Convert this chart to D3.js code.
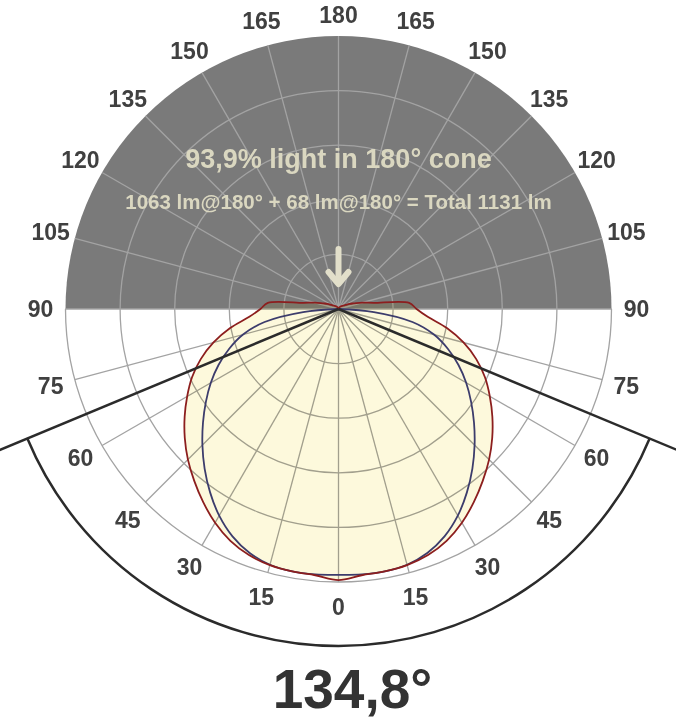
<!DOCTYPE html>
<html>
  <head>
    <meta charset="utf-8"/>
    <style>
      body { margin: 0; background: #fff; }
      text { font-family: "Liberation Sans", Arial, sans-serif; font-weight: bold; }
    </style>
  </head>
  <body>
    <script src="https://d3js.org/d3.v7.min.js"></script>
    <script type="text/javascript">
      var width = 676, height = 720;
      var cx = 338.5, cy = 309, R = 273;

      // polar data, angle from nadir (0 = straight down), relative intensity in %
      var angles     = [0, 5, 10, 15, 20, 25, 30, 35, 40, 45, 50, 55, 60, 65, 70, 75, 80, 85, 90, 95, 100, 105, 110, 115, 120, 135, 150, 165, 180];
      var redValues  = [99.3, 97.9, 97.6, 97.1, 95.9, 93.7, 90.4, 86.4, 82.2, 78.0, 73.5, 68.8, 64.0, 59.2, 53.7, 47.4, 40.3, 32.8, 28.6, 26.0, 13, 9, 6, 4.5, 3, 1.5, 0.8, 0.4, 0.2];
      var blueValues = [97.4, 97.6, 97.6, 97.0, 95.1, 91.9, 87.4, 82.0, 76.3, 70.5, 64.8, 59.3, 54.0, 48.5, 42.6, 36.2, 27.5, 13, 0, 0, 0, 0, 0, 0, 0, 0, 0, 0, 0];
      var ringValues = [20, 40, 60, 80, 100];
      var tickLabels = [0, 15, 30, 45, 60, 75, 90, 105, 120, 135, 150, 165, 180];
      var coneAngle = 134.8;
      var headline = "93,9% light in 180° cone";
      var subline = "1063 lm@180° + 68 lm@180° = Total 1131 lm";
      var coneText = "134,8°";

      var svg = d3.select("body").append("svg")
                  .attr("width", width)
                  .attr("height", height);

      var r = d3.scaleLinear().domain([0, 100]).range([0, R]);
      var rad = function(d) { return d * Math.PI / 180; };

      // screen point for angle from nadir (positive = left side)
      function pt(theta, radius) {
        return [cx - radius * Math.sin(rad(theta)), cy + radius * Math.cos(rad(theta))];
      }

      var g = svg.append("g").attr("transform", "translate(" + cx + "," + cy + ")");

      // dark upper half
      g.append("path")
       .attr("d", d3.arc().innerRadius(0).outerRadius(R).startAngle(-Math.PI / 2).endAngle(Math.PI / 2)())
       .attr("fill", "#7a7a7a");

      // rings
      g.selectAll(".ring").data(ringValues.slice(0, -1)).enter()
       .append("circle")
       .attr("r", function(d) { return r(d); })
       .attr("fill", "none")
       .attr("stroke", "#a3a3a3")
       .attr("stroke-width", 1.3);
      g.append("path")
       .attr("d", d3.arc().innerRadius(R).outerRadius(R).startAngle(Math.PI / 2).endAngle(3 * Math.PI / 2)())
       .attr("fill", "none")
       .attr("stroke", "#a3a3a3")
       .attr("stroke-width", 1.3);

      // spokes every 15 degrees
      var spokes = d3.range(0, 360, 15);
      g.selectAll(".spoke").data(spokes).enter()
       .append("line")
       .attr("x1", 0).attr("y1", 0)
       .attr("x2", function(d) { return -R * Math.sin(rad(d)); })
       .attr("y2", function(d) { return R * Math.cos(rad(d)); })
       .attr("stroke", "#a3a3a3")
       .attr("stroke-width", 1.3);

      // build closed curves: right side from 180 down to 0, then left side 0 to 180
      function series(vals) {
        var pts = [];
        for (var i = angles.length - 1; i >= 1; i--) pts.push([Math.PI - rad(angles[i]), r(vals[i])]);
        for (var j = 0; j < angles.length - 1; j++) pts.push([Math.PI + rad(angles[j]), r(vals[j])]);
        return pts;
      }
      var radial = d3.lineRadial().curve(d3.curveCatmullRomClosed.alpha(0.5));

      g.append("path")
       .attr("d", radial(series(redValues)))
       .attr("fill", "#fdf9dc")
       .style("mix-blend-mode", "multiply");

      g.append("path")
       .attr("d", radial(series(blueValues)))
       .attr("fill", "none")
       .attr("stroke", "#3c3c6c")
       .attr("stroke-width", 1.8);

      g.append("path")
       .attr("d", radial(series(redValues)))
       .attr("fill", "none")
       .attr("stroke", "#8c1e1e")
       .attr("stroke-width", 1.8);

      // cone lines and arc
      var half = coneAngle / 2;
      [half, -half].forEach(function(a) {
        var e = pt(a, 368);
        svg.append("line")
           .attr("x1", cx).attr("y1", cy)
           .attr("x2", e[0]).attr("y2", e[1])
           .attr("stroke", "#2b2b2b")
           .attr("stroke-width", 2.5);
      });
      var p = d3.path();
      var s = pt(-half, 337);
      p.moveTo(s[0], s[1]);
      p.arc(cx, cy, 337, Math.PI / 2 - rad(half), Math.PI / 2 + rad(half), false);
      svg.append("path")
         .attr("d", p.toString())
         .attr("fill", "none")
         .attr("stroke", "#2b2b2b")
         .attr("stroke-width", 2.5);

      // angle labels
      var labelData = [];
      tickLabels.forEach(function(t) {
        labelData.push(t);
        if (t !== 0 && t !== 180) labelData.push(-t);
      });
      var labelR = function(d) { return Math.abs(d) === 180 ? 294 : 298; };
      svg.selectAll(".lbl").data(labelData).enter()
         .append("text")
         .attr("x", function(d) { return pt(d, labelR(d))[0]; })
         .attr("y", function(d) { return pt(d, labelR(d))[1]; })
         .attr("dy", "0.36em")
         .attr("text-anchor", "middle")
         .attr("font-size", 23)
         .attr("fill", "#404040")
         .text(function(d) { return Math.abs(d); });

      // texts in the dark half
      svg.append("text")
         .attr("x", cx).attr("y", 168)
         .attr("text-anchor", "middle")
         .attr("font-size", 27)
         .attr("fill", "#dad7c0")
         .text(headline);
      svg.append("text")
         .attr("x", cx).attr("y", 209)
         .attr("text-anchor", "middle")
         .attr("font-size", 20.5)
         .attr("fill", "#dad7c0")
         .text(subline);

      // arrow
      svg.append("line")
         .attr("x1", cx).attr("y1", 249)
         .attr("x2", cx).attr("y2", 281)
         .attr("stroke", "#e2dfca")
         .attr("stroke-width", 6)
         .attr("stroke-linecap", "round");
      svg.append("path")
         .attr("d", d3.line()([[cx - 10, 272], [cx, 284], [cx + 10, 272]]))
         .attr("fill", "none")
         .attr("stroke", "#e2dfca")
         .attr("stroke-width", 6)
         .attr("stroke-linecap", "round")
         .attr("stroke-linejoin", "round");

      // cone angle title
      svg.append("text")
         .attr("x", cx + 14).attr("y", 708)
         .attr("text-anchor", "middle")
         .attr("font-size", 55)
         .attr("fill", "#333")
         .text(coneText);
    </script>
  </body>
</html>
